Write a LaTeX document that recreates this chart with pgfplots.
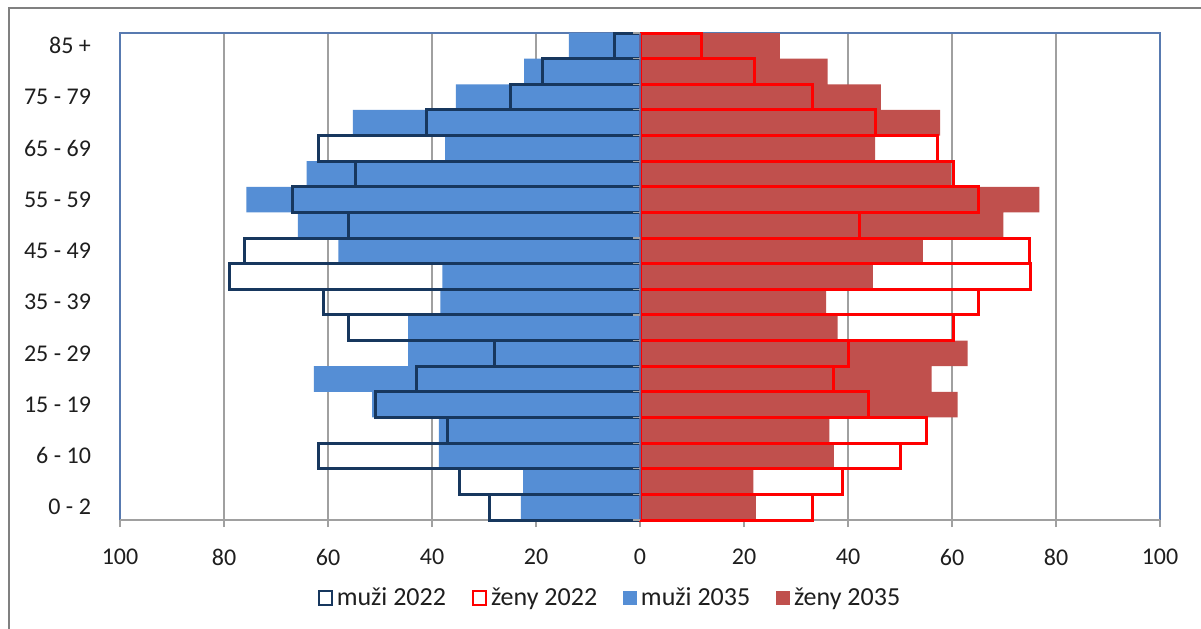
\documentclass[border=0pt]{standalone}
\usepackage{fontspec}
\setmainfont{Carlito}
\usepackage{pgfplots}
\usepackage{pgfplotstable}
\pgfplotsset{compat=1.18}

\definecolor{mblue}{RGB}{85,142,213}
\definecolor{fred}{RGB}{192,80,77}
\definecolor{navy}{RGB}{23,55,94}
\definecolor{gridgray}{RGB}{160,160,160}
\definecolor{framblue}{RGB}{88,122,176}
\definecolor{txt}{RGB}{30,30,30}

% age groups from 0-2 (0) up to 85+ (18); men negative
\pgfplotstableread{
cat m22 m35 f22 f35
0 -29.0 -22.9 33.1 22.3
1 -34.8 -22.5 38.9 21.8
2 -61.8 -38.7 50.0 37.3
3 -37.0 -38.7 55.1 36.4
4 -50.8 -51.5 44.0 61.1
5 -42.9 -62.7 37.2 56.1
6 -28.0 -44.6 40.0 63.0
7 -56.0 -44.6 60.2 38.0
8 -60.9 -38.4 65.1 35.8
9 -78.9 -38.0 75.0 44.8
10 -76.0 -58.0 74.9 54.4
11 -56.0 -65.8 42.2 69.9
12 -66.8 -75.7 65.1 76.8
13 -54.8 -64.1 60.3 59.8
14 -61.9 -37.5 57.2 45.2
15 -41.0 -55.2 45.2 57.7
16 -24.9 -35.4 33.2 46.3
17 -18.8 -22.3 22.1 36.1
18 -4.9 -13.7 11.9 26.9
}\pyramid

\begin{document}
\begin{tikzpicture}
\useasboundingbox (0,0) rectangle (600.5pt,314pt);
\fill[white] (0,0) rectangle (600.5pt,314pt);
\begin{axis}[
  at={(60pt,54pt)}, anchor=south west,
  scale only axis, width=520pt, height=243.5pt,
  clip=false,
  xmin=-100, xmax=100, ymin=-0.5, ymax=18.5,
  xtick={-100,-80,...,100},
  xticklabels={100,80,60,40,20,0,20,40,60,80,100},
  ytick={0,2,...,18},
  yticklabels={0 - 2,6 - 10,15 - 19,25 - 29,35 - 39,45 - 49,55 - 59,65 - 69,75 - 79,85 +},
  xmajorgrids,
  grid style={draw=gridgray, line width=0.6pt},
  axis line style={draw=none},
  ytick style={draw=none},
  xtick style={draw=gridgray, line width=0.6pt},
  xtick pos=bottom,
  tick align=outside,
  major tick length=3.5pt,
  tick label style={font=\fontsize{12}{14}\selectfont, text=txt},
  xticklabel style={yshift=-7.5pt},
  yticklabel style={xshift=-7.5pt},
  /pgf/number format/assume math mode=true,
  legend columns=4,
  legend style={at={(0.4721,-0.160)}, anchor=center, draw=none,
    font=\fontsize{13}{15}\selectfont, text=txt,
    /tikz/every even column/.append style={column sep=11pt}},
]
% plot area frame, under the bars
\draw[framblue, line width=0.6pt] (rel axis cs:0,0) -- (rel axis cs:0,1) -- (rel axis cs:1,1) -- (rel axis cs:1,0);
\draw[gridgray, line width=0.6pt] (rel axis cs:0,0) -- (rel axis cs:1,0);

\addplot[xbar, bar width=1, bar shift=0pt, fill=mblue, draw=none, forget plot]
  table[x=m35, y=cat] {\pyramid};
\addplot[xbar, bar width=1, bar shift=0pt, fill=fred, draw=none, forget plot]
  table[x=f35, y=cat] {\pyramid};
\addplot[xbar, bar width=1, bar shift=0pt, fill=none, draw=navy, line width=1.5pt, forget plot]
  table[x=m22, y=cat] {\pyramid};
\addplot[xbar, bar width=1, bar shift=0pt, fill=none, draw=red, line width=1.5pt, forget plot]
  table[x=f22, y=cat] {\pyramid};

\addlegendimage{legend image code/.code={\draw[navy, line width=1pt] (0.5pt,-3.5pt) rectangle (7pt,3.5pt);}}
\addlegendimage{legend image code/.code={\draw[red, line width=1pt] (0.5pt,-3.5pt) rectangle (7pt,3.5pt);}}
\addlegendimage{legend image code/.code={\fill[mblue] (0.5pt,-3.25pt) rectangle (7pt,3.25pt);}}
\addlegendimage{legend image code/.code={\fill[fred] (0.5pt,-3.25pt) rectangle (7pt,3.25pt);}}
\legend{muži 2022, ženy 2022, muži 2035, ženy 2035}

% centre axis
\draw[gray!80!blue, line width=0.8pt] (axis cs:0,-0.5) -- (axis cs:0,18.5);
\end{axis}
\foreach \k in {0,...,19}
  \draw[gridgray, line width=0.6pt] (320pt,{(54+\k*243.5/19)*1pt}) -- ++(-3.5pt,0);
% chart border
\draw[gray, line width=1pt] (4.5pt,-5pt) -- (4.5pt,310pt) -- (610pt,310pt);
\end{tikzpicture}
\end{document}
